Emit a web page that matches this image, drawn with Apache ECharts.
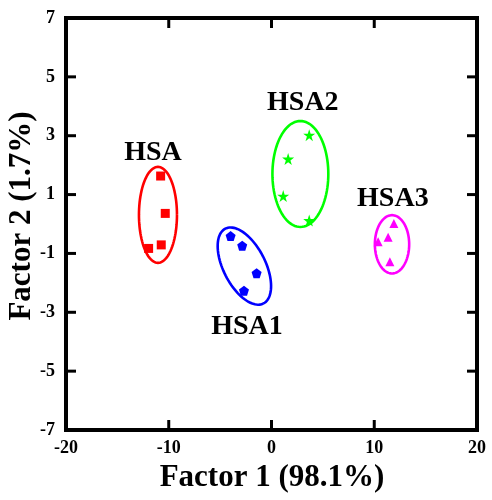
<!DOCTYPE html>
<html>
<head>
<meta charset="utf-8">
<script src="https://cdn.jsdelivr.net/npm/echarts@6/dist/echarts.min.js"></script>
<style>
  html, body { margin: 0; padding: 0; background: #fff; }
  #chart { width: 492px; height: 500px; }
</style>
</head>
<body>
<div id="chart"></div>
<script>
// Factor scores for each sample group: [Factor 1, Factor 2]
var hsaPoints  = [[-10.79, 1.63], [-10.34, 0.36], [-10.73, -0.71], [-11.96, -0.83]];
var hsa1Points = [[-3.98, -0.41], [-2.85, -0.74], [-1.45, -1.67], [-2.68, -2.27]];
var hsa2Points = [[3.67, 3.02], [1.62, 2.21], [1.14, 0.95], [3.67, 0.12]];
var hsa3Points = [[11.91, 0.02], [11.35, -0.45], [10.38, -0.60], [11.52, -1.28]];

// Group ellipses: centre x, centre y, first semi-axis (dx, dy), second semi-axis (dx, dy)
var hsaEllipse  = [-11.05, 0.31, 1.85, 0, 0, 1.63];
var hsa1Ellipse = [-2.64, -1.43, 1.855, -1.271, -1.82, -0.324];
var hsa2Ellipse = [2.81, 1.70, 2.72, 0, 0, 1.80];
var hsa3Ellipse = [11.73, -0.69, 1.67, 0, 0, 0.99];

// Group names and where they sit
var groupNames = ['HSA', 'HSA1', 'HSA2', 'HSA3'];
var groupLabelPos = [[-11.54, 2.41], [-2.39, -3.50], [3.05, 4.11], [11.81, 0.85]];
var groupColors = ['#ff0000', '#0000ff', '#00ff00', '#ff00ff'];

// Axis setup
var xMin = -20, xMax = 20, xStep = 10;
var yMin = -7, yMax = 7, yStep = 2;
// tick positions between the frame corners, marked on all four edges
var xInnerTicks = [-10, 0, 10];
var yInnerTicks = [-5, -3, -1, 1, 3, 5];
var xTitle = 'Factor 1 (98.1%)';
var yTitle = 'Factor 2 (1.7%)';

var serif = '"Liberation Serif", "Times New Roman", serif';

var pentagon = 'path://M0,-1 L0.951,-0.309 L0.588,0.809 L-0.588,0.809 L-0.951,-0.309 Z';
var star = 'path://M0,-1 L0.225,-0.309 L0.951,-0.309 L0.363,0.118 L0.588,0.809 L0,0.382 L-0.588,0.809 L-0.363,0.118 L-0.951,-0.309 L-0.225,-0.309 Z';

function ellipseSeries(params, color) {
  return {
    type: 'custom',
    data: [params],
    silent: true,
    z: 2,
    renderItem: function (p, api) {
      var cx = api.value(0), cy = api.value(1);
      var ux = api.value(2), uy = api.value(3);
      var vx = api.value(4), vy = api.value(5);
      var pts = [];
      var n = 96;
      for (var i = 0; i <= n; i++) {
        var t = 2 * Math.PI * i / n;
        pts.push(api.coord([cx + ux * Math.cos(t) + vx * Math.sin(t),
                            cy + uy * Math.cos(t) + vy * Math.sin(t)]));
      }
      return {
        type: 'polyline',
        shape: { points: pts },
        style: { stroke: color, lineWidth: 2.6, fill: null }
      };
    }
  };
}

function pointSeries(data, symbol, size, color) {
  return {
    type: 'scatter',
    data: data,
    symbol: symbol,
    symbolSize: size,
    itemStyle: { color: color, opacity: 1 },
    z: 3
  };
}

// Inward tick marks along one edge of the frame.
// edge: 'bottom' | 'top' | 'left' | 'right'
var TICK_LEN = 10;
function edgeTickSeries(values, edge) {
  return {
    type: 'custom',
    data: values.map(function (v) { return [v, 0]; }),
    silent: true,
    clip: false,
    z: 6,
    renderItem: function (p, api) {
      var v = api.value(0);
      var a, b;
      if (edge === 'bottom') {
        a = api.coord([v, yMin]); b = [a[0], a[1] - TICK_LEN];
      } else if (edge === 'top') {
        a = api.coord([v, yMax]); b = [a[0], a[1] + TICK_LEN];
      } else if (edge === 'left') {
        a = api.coord([xMin, v]); b = [a[0] + TICK_LEN, a[1]];
      } else {
        a = api.coord([xMax, v]); b = [a[0] - TICK_LEN, a[1]];
      }
      return {
        type: 'polyline',
        shape: { points: [a, b] },
        style: { stroke: '#000', lineWidth: 3, fill: null }
      };
    }
  };
}

var labelData = groupNames.map(function (name, i) {
  return { value: groupLabelPos[i], name: name };
});

var hiddenLine = { show: false, onZero: false };
var labelFont = { color: '#000', fontFamily: serif, fontWeight: 'bold', fontSize: 18 };

var chart = echarts.init(document.getElementById('chart'), null, { renderer: 'canvas' });
chart.setOption({
  backgroundColor: '#fff',
  animation: false,
  grid: {
    left: 66, right: 15, top: 18, bottom: 70,
    show: true, borderColor: '#000', borderWidth: 4, backgroundColor: 'transparent'
  },
  graphic: [{
    type: 'text', x: 272, y: 478, silent: true,
    style: { text: xTitle, fill: '#000', font: 'bold 31px ' + serif, textAlign: 'center', textVerticalAlign: 'middle' }
  }, {
    type: 'text', x: 22, y: 216, rotation: Math.PI / 2, silent: true,
    style: { text: yTitle, fill: '#000', font: 'bold 31px ' + serif, textAlign: 'center', textVerticalAlign: 'middle' }
  }],
  xAxis: {
    type: 'value', min: xMin, max: xMax, interval: xStep, position: 'bottom',
    axisLine: hiddenLine, axisTick: { show: false },
    axisLabel: Object.assign({ margin: 9 }, labelFont),
    splitLine: { show: false }
  },
  yAxis: {
    type: 'value', min: yMin, max: yMax, interval: yStep, position: 'left',
    axisLine: hiddenLine, axisTick: { show: false },
    axisLabel: Object.assign({ margin: 11 }, labelFont),
    splitLine: { show: false }
  },
  series: [
    ellipseSeries(hsaEllipse, groupColors[0]),
    ellipseSeries(hsa1Ellipse, groupColors[1]),
    ellipseSeries(hsa2Ellipse, groupColors[2]),
    ellipseSeries(hsa3Ellipse, groupColors[3]),
    pointSeries(hsaPoints, 'rect', 9, groupColors[0]),
    pointSeries(hsa1Points, pentagon, 10, groupColors[1]),
    pointSeries(hsa2Points, star, 12, groupColors[2]),
    pointSeries(hsa3Points, 'triangle', 9, groupColors[3]),
    edgeTickSeries(xInnerTicks, 'bottom'),
    edgeTickSeries(xInnerTicks, 'top'),
    edgeTickSeries(yInnerTicks, 'left'),
    edgeTickSeries(yInnerTicks, 'right'),
    {
      type: 'scatter',
      data: labelData,
      symbolSize: 0,
      silent: true,
      z: 4,
      itemStyle: { opacity: 1 },
      label: {
        show: true, position: 'inside',
        formatter: function (p) { return p.name; },
        color: '#000', opacity: 1, fontFamily: serif, fontWeight: 'bold', fontSize: 28
      }
    }
  ]
});
</script>
</body>
</html>
